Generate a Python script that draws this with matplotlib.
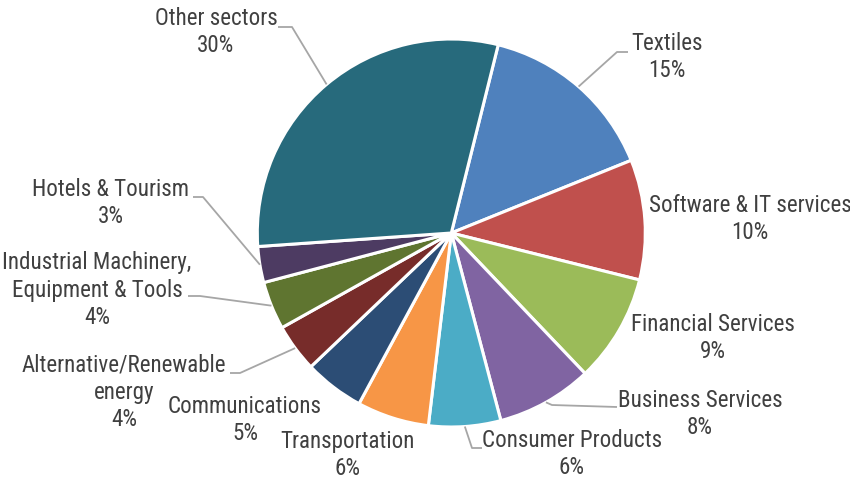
import matplotlib
matplotlib.use("Agg")
import matplotlib.pyplot as plt
from matplotlib import font_manager
from matplotlib.font_manager import FontProperties
import numpy as np

# Sector shares (%), in drawing order starting from the top, clockwise
sectors = [
    "Textiles",
    "Software & IT services",
    "Financial Services",
    "Business Services",
    "Consumer Products",
    "Transportation",
    "Communications",
    "Alternative/Renewable\nenergy",
    "Industrial Machinery,\nEquipment & Tools",
    "Hotels & Tourism",
    "Other sectors",
]
shares = [15, 10, 9, 8, 6, 6, 5, 4, 4, 3, 30]
colors = [
    "#4F81BD", "#C0504D", "#9BBB59", "#8064A2", "#4BACC6", "#F79646",
    "#2C4D75", "#772C2A", "#5F7530", "#4D3B62", "#276A7C",
]

# Label block centres (figure pixels, origin top-left)
label_xy = [
    (667, 57), (750, 219), (713, 338), (700, 414), (572, 454), (348, 455),
    (245, 420), (124, 392), (97, 290), (111, 203), (216, 32),
]
# Leader-line elbows (None = label sits next to its slice)
elbows = [
    [(628, 52), (617, 52)], None, None, [(617, 407), (552, 405)],
    [(482, 448), (472, 448)], None, None, [(230, 373), (240, 373)],
    [(188, 296), (200, 296)], [(193, 197), (203, 197)], [(278, 27), (292, 27)],
]

W, H = 850, 482
LINE_STEP = 27  # pixels between label lines


def pick_narrow_font():
    """Return (font file, size scale) for a condensed sans face."""
    entries = font_manager.fontManager.ttflist
    narrow = ("condensed", "semi-condensed", "extra-condensed")

    def regular(f):
        return f.style == "normal" and f.weight in (400, "normal", "regular")

    prefs = ["Liberation Sans Narrow", "Arial Narrow", "Roboto Condensed",
             "Open Sans Condensed", "Roboto", "Open Sans", "Noto Sans",
             "DejaVu Sans"]
    for name in prefs:
        for f in entries:
            if f.name == name and regular(f) and (
                    "Narrow" in name or "Condensed" in name or f.stretch in narrow):
                return f.fname, (1.0 if "Narrow" in name else 0.955)
    for f in entries:
        if f.name == "Liberation Sans" and regular(f):
            return f.fname, 0.82
    return None, 0.82


font_file, scale = pick_narrow_font()
base_size = 17.3 * scale
if font_file:
    fprop = FontProperties(fname=font_file, size=base_size)
else:
    fprop = FontProperties(family="DejaVu Sans", size=base_size)

fig = plt.figure(figsize=(W / 100, H / 100), dpi=100)
ax = fig.add_axes([0, 0, 1, 1])

cx, cy, r = 451.3, H - 233, 194
wedges, _ = ax.pie(
    shares, colors=colors, startangle=76, counterclock=False,
    center=(cx, cy), radius=r, frame=True,
    wedgeprops=dict(edgecolor="white", linewidth=2.2),
)
ax.set_xlim(0, W)
ax.set_ylim(0, H)
ax.set_aspect("equal")
ax.axis("off")

text_color = "#404040"
line_color = "#A6A6A6"
for w, name, val, (lx, ly), elb in zip(wedges, sectors, shares, label_xy, elbows):
    lines = name.split("\n") + [f"{val}%"]
    top = ly - LINE_STEP * (len(lines) - 1) / 2
    for i, line in enumerate(lines):
        ax.text(lx, H - (top + i * LINE_STEP), line, ha="center", va="center",
                fontproperties=fprop, color=text_color)
    if elb is not None:
        mid = np.deg2rad((w.theta1 + w.theta2) / 2)
        ex, ey = cx + r * np.cos(mid), cy + r * np.sin(mid)
        xs = [elb[0][0], elb[1][0], ex]
        ys = [H - elb[0][1], H - elb[1][1], ey]
        ax.plot(xs, ys, color=line_color, linewidth=1.3, solid_capstyle="butt")

fig.savefig("out.png", dpi=100, facecolor="white")
